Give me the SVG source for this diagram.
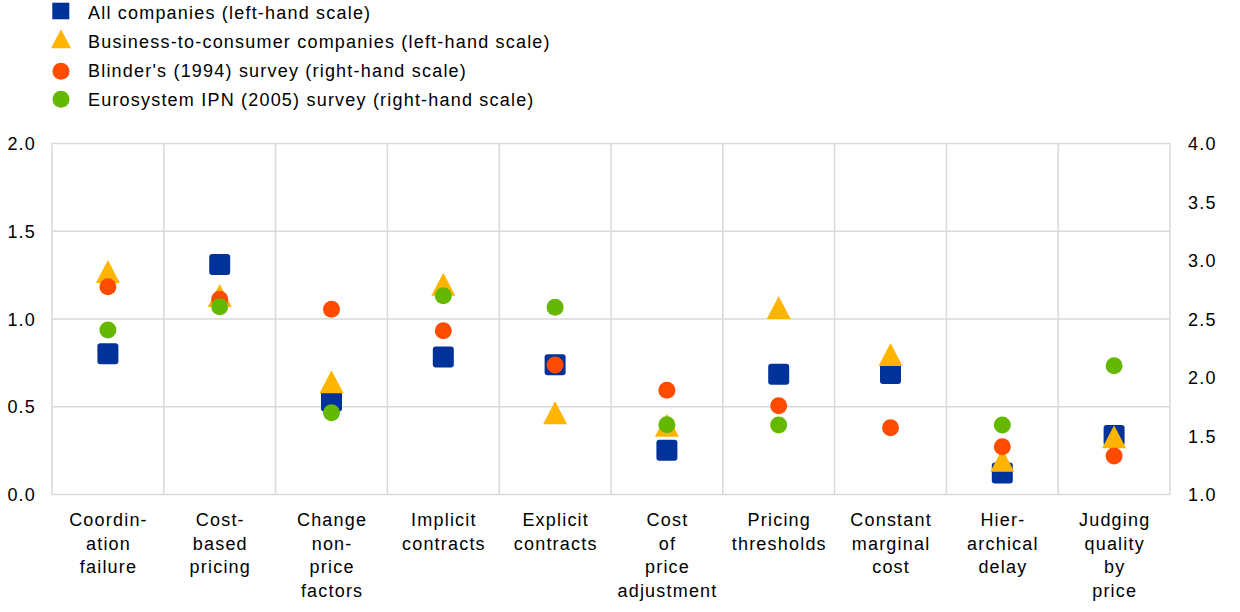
<svg xmlns="http://www.w3.org/2000/svg" width="1240" height="612" viewBox="0 0 1240 612">
<style>
text{font-family:"Liberation Sans",Arial,sans-serif;font-size:18px;fill:#000;letter-spacing:1.2px}
.grid{stroke:#d9d9d9;stroke-width:1.5;fill:none}
.sq{fill:#003299}
.tri{fill:#FFB400}
.red{fill:#FF4B00}
.grn{fill:#65B800}
.cat{text-anchor:middle}
.ly{text-anchor:end}
</style>
<rect width="1240" height="612" fill="#fff"/>
<g id="legend">
<rect class="sq" x="52.3" y="2.7" width="17" height="16.6"/>
<polygon class="tri" points="61,29.3 51,48.3 71,48.3"/>
<circle class="red" cx="61" cy="71.3" r="8.5"/>
<circle class="grn" cx="61" cy="99.3" r="8.5"/>
<text x="88" y="19">All companies (left-hand scale)</text>
<text x="88" y="48">Business-to-consumer companies (left-hand scale)</text>
<text x="88" y="77">Blinder's (1994) survey (right-hand scale)</text>
<text x="88" y="106">Eurosystem IPN (2005) survey (right-hand scale)</text>
</g>
<g id="grid">
<rect class="grid" x="52" y="143.5" width="1118" height="351"/>
<path class="grid" d="M52 231.25H1170M52 319H1170M52 406.75H1170M163.8 143.5V494.5M275.6 143.5V494.5M387.4 143.5V494.5M499.2 143.5V494.5M611 143.5V494.5M722.8 143.5V494.5M834.6 143.5V494.5M946.4 143.5V494.5M1058.2 143.5V494.5"/>
</g>
<g id="left-axis">
<text class="ly" x="36" y="150">2.0</text>
<text class="ly" x="36" y="237.75">1.5</text>
<text class="ly" x="36" y="325.5">1.0</text>
<text class="ly" x="36" y="413.25">0.5</text>
<text class="ly" x="36" y="501">0.0</text>
</g>
<g id="right-axis">
<text x="1188" y="150">4.0</text>
<text x="1188" y="208.5">3.5</text>
<text x="1188" y="267">3.0</text>
<text x="1188" y="325.5">2.5</text>
<text x="1188" y="384">2.0</text>
<text x="1188" y="442.5">1.5</text>
<text x="1188" y="501">1.0</text>
</g>
<g id="series-all">
<rect class="sq" x="97.4" y="343.2" width="21" height="21" rx="3"/>
<rect class="sq" x="209.2" y="254" width="21" height="21" rx="3"/>
<rect class="sq" x="321" y="390.5" width="21" height="21" rx="3"/>
<rect class="sq" x="432.8" y="346.5" width="21" height="21" rx="3"/>
<rect class="sq" x="544.6" y="354.3" width="21" height="21" rx="3"/>
<rect class="sq" x="656.4" y="439.8" width="21" height="21" rx="3"/>
<rect class="sq" x="768.2" y="363.8" width="21" height="21" rx="3"/>
<rect class="sq" x="880" y="363" width="21" height="21" rx="3"/>
<rect class="sq" x="991.8" y="462.5" width="21" height="21" rx="3"/>
<rect class="sq" x="1103.6" y="425" width="21" height="21" rx="3"/>
</g>
<g id="series-b2c">
<polygon class="tri" points="107.9,260 95.9,283 119.9,283"/>
<polygon class="tri" points="219.7,284 207.7,307 231.7,307"/>
<polygon class="tri" points="331.5,370.3 319.5,393.3 343.5,393.3"/>
<polygon class="tri" points="443.3,272.7 431.3,295.7 455.3,295.7"/>
<polygon class="tri" points="555.1,401.3 543.1,424.3 567.1,424.3"/>
<polygon class="tri" points="666.9,413.7 654.9,436.7 678.9,436.7"/>
<polygon class="tri" points="778.7,296 766.7,319 790.7,319"/>
<polygon class="tri" points="890.5,343 878.5,366 902.5,366"/>
<polygon class="tri" points="1002.3,448.7 990.3,471.7 1014.3,471.7"/>
<polygon class="tri" points="1114.1,425.3 1102.1,448.3 1126.1,448.3"/>
</g>
<g id="series-blinder">
<circle class="red" cx="107.9" cy="286.7" r="8.5"/>
<circle class="red" cx="219.7" cy="299.3" r="8.5"/>
<circle class="red" cx="331.5" cy="309.3" r="8.5"/>
<circle class="red" cx="443.3" cy="330.7" r="8.5"/>
<circle class="red" cx="555.1" cy="365" r="8.5"/>
<circle class="red" cx="666.9" cy="390.3" r="8.5"/>
<circle class="red" cx="778.7" cy="405.7" r="8.5"/>
<circle class="red" cx="890.5" cy="427.7" r="8.5"/>
<circle class="red" cx="1002.3" cy="446.7" r="8.5"/>
<circle class="red" cx="1114.1" cy="456" r="8.5"/>
</g>
<g id="series-ipn">
<circle class="grn" cx="107.9" cy="330" r="8.5"/>
<circle class="grn" cx="219.7" cy="306.7" r="8.5"/>
<circle class="grn" cx="331.5" cy="412.7" r="8.5"/>
<circle class="grn" cx="443.3" cy="295.7" r="8.5"/>
<circle class="grn" cx="555.1" cy="307.3" r="8.5"/>
<circle class="grn" cx="666.9" cy="424.7" r="8.5"/>
<circle class="grn" cx="778.7" cy="425" r="8.5"/>
<circle class="grn" cx="1002.3" cy="425" r="8.5"/>
<circle class="grn" cx="1114.1" cy="365.7" r="8.5"/>
</g>
<g id="categories">
<text class="cat" x="108.5" y="526">Coordin-</text>
<text class="cat" x="108.5" y="549.5">ation</text>
<text class="cat" x="108.5" y="573">failure</text>
<text class="cat" x="220.3" y="526">Cost-</text>
<text class="cat" x="220.3" y="549.5">based</text>
<text class="cat" x="220.3" y="573">pricing</text>
<text class="cat" x="332.1" y="526">Change</text>
<text class="cat" x="332.1" y="549.5">non-</text>
<text class="cat" x="332.1" y="573">price</text>
<text class="cat" x="332.1" y="596.5">factors</text>
<text class="cat" x="443.9" y="526">Implicit</text>
<text class="cat" x="443.9" y="549.5">contracts</text>
<text class="cat" x="555.7" y="526">Explicit</text>
<text class="cat" x="555.7" y="549.5">contracts</text>
<text class="cat" x="667.5" y="526">Cost</text>
<text class="cat" x="667.5" y="549.5">of</text>
<text class="cat" x="667.5" y="573">price</text>
<text class="cat" x="667.5" y="596.5">adjustment</text>
<text class="cat" x="779.3" y="526">Pricing</text>
<text class="cat" x="779.3" y="549.5">thresholds</text>
<text class="cat" x="891.1" y="526">Constant</text>
<text class="cat" x="891.1" y="549.5">marginal</text>
<text class="cat" x="891.1" y="573">cost</text>
<text class="cat" x="1002.9" y="526">Hier-</text>
<text class="cat" x="1002.9" y="549.5">archical</text>
<text class="cat" x="1002.9" y="573">delay</text>
<text class="cat" x="1114.7" y="526">Judging</text>
<text class="cat" x="1114.7" y="549.5">quality</text>
<text class="cat" x="1114.7" y="573">by</text>
<text class="cat" x="1114.7" y="596.5">price</text>
</g>
</svg>
